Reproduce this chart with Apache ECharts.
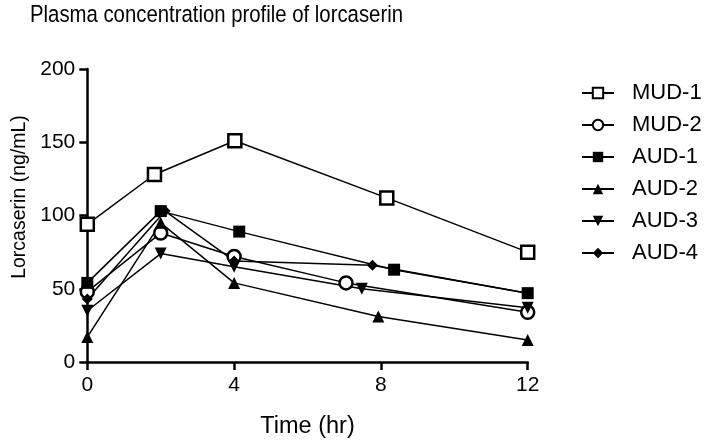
<!DOCTYPE html>
<html>
<head>
<meta charset="utf-8">
<script src="https://cdn.jsdelivr.net/npm/echarts@6/dist/echarts.min.js"></script>
<style>html,body{margin:0;padding:0;background:#fff;}#c{width:709px;height:444px;}</style>
</head>
<body>
<div id="c"></div>
<script>
var chartTitle = 'Plasma concentration profile of lorcaserin';
var seriesNames = ['MUD-1', 'MUD-2', 'AUD-1', 'AUD-2', 'AUD-3', 'AUD-4'];
var mud1 = [[0, 94], [1.83, 128], [4.02, 151], [8.16, 112], [12, 75]];
var mud2 = [[0, 48], [2.0, 88], [4.0, 72], [7.05, 54], [12, 34]];
var aud1 = [[0, 54], [2.0, 103], [4.14, 89], [8.36, 63], [12, 47]];
var aud2 = [[0, 17], [2.0, 95], [4.0, 54], [7.93, 31], [12, 15]];
var aud3 = [[0, 35], [2.0, 74], [4.0, 65], [7.48, 50], [12, 37]];
var aud4 = [[0, 43], [2.12, 103], [4.0, 69], [7.77, 66], [12, 47]];
var xTicks = [0, 4, 8, 12];
var yTicks = [0, 50, 100, 150, 200];

var FONT = '"Liberation Sans", Arial, sans-serif';
function mk(name, data, symbol, size, open, rotate) {
  return {
    name: name, type: 'line', data: data,
    symbol: symbol, symbolSize: size, symbolRotate: rotate || 0,
    lineStyle: {color: '#000', width: 1.5},
    itemStyle: open ? {color: '#fff', borderColor: '#000', borderWidth: 2.5}
                    : {color: '#000', borderColor: '#000', borderWidth: 0},
    emphasis: {disabled: true},
    animation: false, z: 3
  };
}
var chart = echarts.init(document.getElementById('c'));
chart.setOption({
  backgroundColor: '#fff',
  animation: false,
  graphic: [{
    type: 'text', x: 30, y: 3, scaleX: 0.83, scaleY: 1,
    style: {text: chartTitle, font: 'normal 24.5px "Liberation Sans", Arial, sans-serif', fill: '#000', textVerticalAlign: 'top', verticalAlign: 'top'}
  }],
  legend: {
    orient: 'vertical', left: 581, top: 82, padding: 0,
    itemWidth: 32, itemHeight: 13, itemGap: 10,
    textStyle: {fontFamily: FONT, fontSize: 22, color: '#000', lineHeight: 22, padding: [0, 0, 0, 13]},
    data: seriesNames
  },
  grid: {left: 87.3, right: 181.3, top: 69, bottom: 80.7},
  xAxis: {
    type: 'value', min: xTicks[0], max: xTicks[xTicks.length - 1], interval: 4,
    name: 'Time (hr)', nameLocation: 'middle', nameGap: 53,
    nameTextStyle: {fontFamily: FONT, fontSize: 23.5, color: '#000'},
    axisLine: {show: true, lineStyle: {color: '#000', width: 2.5}},
    axisTick: {show: true, length: 8, lineStyle: {color: '#000', width: 2.5}},
    axisLabel: {fontFamily: FONT, fontSize: 21, color: '#000', margin: 13},
    splitLine: {show: false}
  },
  yAxis: {
    type: 'value', min: yTicks[0], max: yTicks[yTicks.length - 1], interval: 50,
    name: 'Lorcaserin (ng/mL)', nameLocation: 'middle', nameGap: 58,
    nameTextStyle: {fontFamily: FONT, fontSize: 19.5, color: '#000', padding: [0, 0, 0, 37]},
    axisLine: {show: true, lineStyle: {color: '#000', width: 2.5}},
    axisTick: {show: true, length: 8, lineStyle: {color: '#000', width: 2.5}},
    axisLabel: {fontFamily: FONT, fontSize: 21, color: '#000', margin: 12},
    splitLine: {show: false}
  },
  series: [
    mk(seriesNames[0], mud1, 'rect', 13, true),
    mk(seriesNames[1], mud2, 'circle', 13, true),
    mk(seriesNames[2], aud1, 'rect', 12, false),
    mk(seriesNames[3], aud2, 'triangle', 12, false),
    mk(seriesNames[4], aud3, 'triangle', 12, false, 180),
    mk(seriesNames[5], aud4, 'diamond', 11, false)
  ]
});
</script>
</body>
</html>
